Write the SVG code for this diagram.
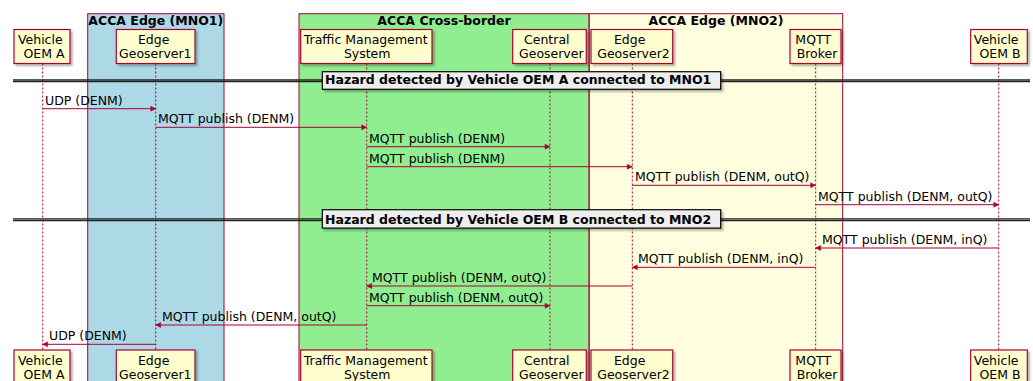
<svg xmlns="http://www.w3.org/2000/svg" width="1033" height="381" viewBox="0 0 1033 381">
  <style>
    text { font-family: "DejaVu Sans", Verdana, sans-serif; font-size: 12.5px; fill: #000000; }
    .bold { font-weight: bold; }
    .mid { text-anchor: middle; }
    .frame { stroke: #A80036; stroke-width: 1; }
    .life { stroke: #A80036; stroke-width: 1; stroke-dasharray: 2 2; fill: none; }
    .part rect { fill: #FEFECE; stroke: #A80036; stroke-width: 1.2; filter: url(#shadow); }
    .msg line { stroke: #A80036; stroke-width: 1; }
    .msg polygon { fill: #A80036; stroke: #A80036; stroke-width: 0.5; }
    .sepline { stroke: #222222; stroke-width: 1.3; }
    .seplabel { fill: #EEEEEE; stroke: #000000; stroke-width: 1.2; filter: url(#shadow); }
  </style>
  <defs>
    <filter id="shadow" x="-10%" y="-20%" width="130%" height="160%">
      <feDropShadow dx="2" dy="2" stdDeviation="1" flood-color="#000000" flood-opacity="0.3"/>
    </filter>
  </defs>
  <rect x="0" y="0" width="1033" height="381" fill="#FFFFFF"/>

  <!-- grouping boxes -->
  <g id="box-mno1">
    <rect class="frame" x="87.7" y="13.7" width="136.3" height="380" fill="#ADD8E6"/>
    <text class="bold mid" x="155.8" y="25">ACCA Edge (MNO1)</text>
  </g>
  <g id="box-crossborder">
    <rect class="frame" x="299" y="13.7" width="290" height="380" fill="#90EE90"/>
    <text class="bold mid" x="444" y="25">ACCA Cross-border</text>
  </g>
  <g id="box-mno2">
    <rect class="frame" x="589.3" y="13.7" width="253.4" height="380" fill="#FFFFE0"/>
    <text class="bold mid" x="716" y="25">ACCA Edge (MNO2)</text>
  </g>

  <!-- lifelines -->
  <g id="lifelines">
    <line class="life" x1="42.7" y1="63.5" x2="42.7" y2="350"/>
    <line class="life" x1="155.7" y1="63.5" x2="155.7" y2="350"/>
    <line class="life" x1="366.7" y1="63.5" x2="366.7" y2="350"/>
    <line class="life" x1="550" y1="63.5" x2="550" y2="350"/>
    <line class="life" x1="632.3" y1="63.5" x2="632.3" y2="350"/>
    <line class="life" x1="815.7" y1="63.5" x2="815.7" y2="350"/>
    <line class="life" x1="998.7" y1="63.5" x2="998.7" y2="350"/>
  </g>

  <!-- participants (head and foot) -->
  <g id="vehicle-oem-a" class="part">
    <rect x="14" y="29.5" width="56" height="34"/>
    <text class="mid" x="40.3" y="44">Vehicle</text>
    <text class="mid" x="44" y="58">OEM A</text>
    <rect x="14" y="350" width="56" height="34"/>
    <text class="mid" x="40.3" y="364.5">Vehicle</text>
    <text class="mid" x="44" y="378.5">OEM A</text>
  </g>
  <g id="edge-geoserver1" class="part">
    <rect x="116.3" y="29.5" width="78.7" height="34"/>
    <text class="mid" x="153.7" y="44">Edge</text>
    <text class="mid" x="155.3" y="58">Geoserver1</text>
    <rect x="116.3" y="350" width="78.7" height="34"/>
    <text class="mid" x="153.7" y="364.5">Edge</text>
    <text class="mid" x="155.3" y="378.5">Geoserver1</text>
  </g>
  <g id="traffic-management-system" class="part">
    <rect x="300.7" y="29.5" width="131.3" height="34"/>
    <text class="mid" x="365.7" y="44">Traffic Management</text>
    <text class="mid" x="367.2" y="58">System</text>
    <rect x="300.7" y="350" width="131.3" height="34"/>
    <text class="mid" x="365.7" y="364.5">Traffic Management</text>
    <text class="mid" x="367.2" y="378.5">System</text>
  </g>
  <g id="central-geoserver" class="part">
    <rect x="512.7" y="29.5" width="73.6" height="34"/>
    <text class="mid" x="546.8" y="44">Central</text>
    <text class="mid" x="551.3" y="58">Geoserver</text>
    <rect x="512.7" y="350" width="73.6" height="34"/>
    <text class="mid" x="546.8" y="364.5">Central</text>
    <text class="mid" x="551.3" y="378.5">Geoserver</text>
  </g>
  <g id="edge-geoserver2" class="part">
    <rect x="591" y="29.5" width="81.7" height="34"/>
    <text class="mid" x="629.7" y="44">Edge</text>
    <text class="mid" x="633.5" y="58">Geoserver2</text>
    <rect x="591" y="350" width="81.7" height="34"/>
    <text class="mid" x="629.7" y="364.5">Edge</text>
    <text class="mid" x="633.5" y="378.5">Geoserver2</text>
  </g>
  <g id="mqtt-broker" class="part">
    <rect x="790" y="29.5" width="51" height="34"/>
    <text class="mid" x="813.2" y="44">MQTT</text>
    <text class="mid" x="817" y="58">Broker</text>
    <rect x="790" y="350" width="51" height="34"/>
    <text class="mid" x="813.2" y="364.5">MQTT</text>
    <text class="mid" x="817" y="378.5">Broker</text>
  </g>
  <g id="vehicle-oem-b" class="part">
    <rect x="970.7" y="29.5" width="56.6" height="34"/>
    <text class="mid" x="996.2" y="44">Vehicle</text>
    <text class="mid" x="1000" y="58">OEM B</text>
    <rect x="970.7" y="350" width="56.6" height="34"/>
    <text class="mid" x="996.2" y="364.5">Vehicle</text>
    <text class="mid" x="1000" y="378.5">OEM B</text>
  </g>

  <!-- dividers -->
  <g id="divider-oem-a">
    <line class="sepline" x1="13" y1="80" x2="1030" y2="80"/>
    <line class="sepline" x1="13" y1="81.6" x2="1030" y2="81.6"/>
    <rect class="seplabel" x="322.3" y="71.7" width="398.4" height="17.6"/>
    <text class="bold" x="325" y="84.4">Hazard detected by Vehicle OEM A connected to MNO1</text>
  </g>
  <g id="divider-oem-b">
    <line class="sepline" x1="13" y1="218.9" x2="1030" y2="218.9"/>
    <line class="sepline" x1="13" y1="220.5" x2="1030" y2="220.5"/>
    <rect class="seplabel" x="322.3" y="209.7" width="398.4" height="18.4"/>
    <text class="bold" x="325" y="223.6">Hazard detected by Vehicle OEM B connected to MNO2</text>
  </g>

  <!-- messages -->
  <g id="connectors" class="msg">
    <line x1="42.7" y1="108.7" x2="155.7" y2="108.7"/>
    <polygon points="150.7,106.2 155.7,108.7 150.7,111.2"/>
    <text x="45" y="104.7">UDP (DENM)</text>

    <line x1="155.7" y1="127.3" x2="366.7" y2="127.3"/>
    <polygon points="361.7,124.8 366.7,127.3 361.7,129.8"/>
    <text x="158" y="123.3">MQTT publish (DENM)</text>

    <line x1="366.7" y1="146.7" x2="550" y2="146.7"/>
    <polygon points="545,144.2 550,146.7 545,149.2"/>
    <text x="369" y="142.7">MQTT publish (DENM)</text>

    <line x1="366.7" y1="166.7" x2="632.3" y2="166.7"/>
    <polygon points="627.3,164.2 632.3,166.7 627.3,169.2"/>
    <text x="369" y="162.7">MQTT publish (DENM)</text>

    <line x1="632.3" y1="185.3" x2="815.7" y2="185.3"/>
    <polygon points="810.7,182.8 815.7,185.3 810.7,187.8"/>
    <text x="635" y="181.3">MQTT publish (DENM, outQ)</text>

    <line x1="815.7" y1="204.7" x2="998.7" y2="204.7"/>
    <polygon points="993.7,202.2 998.7,204.7 993.7,207.2"/>
    <text x="818" y="200.7">MQTT publish (DENM, outQ)</text>

    <line x1="998.7" y1="248" x2="815.7" y2="248"/>
    <polygon points="820.7,245.5 815.7,248 820.7,250.5"/>
    <text x="822" y="244">MQTT publish (DENM, inQ)</text>

    <line x1="815.7" y1="267.3" x2="632.3" y2="267.3"/>
    <polygon points="637.3,264.8 632.3,267.3 637.3,269.8"/>
    <text x="638" y="263.3">MQTT publish (DENM, inQ)</text>

    <line x1="632.3" y1="286" x2="366.7" y2="286"/>
    <polygon points="371.7,283.5 366.7,286 371.7,288.5"/>
    <text x="372" y="282">MQTT publish (DENM, outQ)</text>

    <line x1="366.7" y1="305.7" x2="550" y2="305.7"/>
    <polygon points="545,303.2 550,305.7 545,308.2"/>
    <text x="369" y="301.7">MQTT publish (DENM, outQ)</text>

    <line x1="366.7" y1="325" x2="155.7" y2="325"/>
    <polygon points="160.7,322.5 155.7,325 160.7,327.5"/>
    <text x="162" y="321">MQTT publish (DENM, outQ)</text>

    <line x1="155.7" y1="344.3" x2="42.7" y2="344.3"/>
    <polygon points="47.7,341.8 42.7,344.3 47.7,346.8"/>
    <text x="49" y="340.3">UDP (DENM)</text>
  </g>
</svg>
